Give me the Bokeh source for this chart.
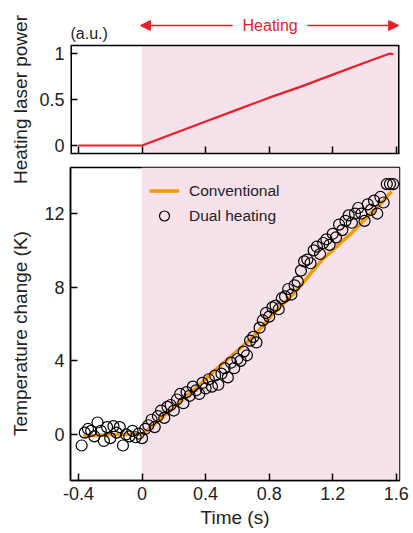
import math
from bokeh.plotting import figure
from bokeh.layouts import column, row
from bokeh.models import (Label, Arrow, NormalHead, Range1d,
                          FixedTicker, Legend, LegendItem)
from bokeh.core.properties import value
from bokeh.embed import file_html
from bokeh.resources import INLINE

FONT = "Liberation Sans"

# ---- data ----
x_ticks = [-0.4, 0, 0.4, 0.8, 1.2, 1.6]
x_tick_labels = ["-0.4", "0", "0.4", "0.8", "1.2", "1.6"]
power_ticks = [0, 0.5, 1]
power_tick_labels = ["0", "0.5", "1"]
temp_ticks = [0, 4, 8, 12]
temp_tick_labels = ["0", "4", "8", "12"]

laser_t = [-0.4, -0.2, 0.0, 0.2, 0.4, 0.6, 0.8, 1.0, 1.2, 1.4, 1.56, 1.58]
laser_p = [0.0, 0.0, 0.0, 0.13, 0.26, 0.39, 0.52, 0.64, 0.77, 0.9, 1.0, 0.99]

conv_t = [-0.37, -0.3, -0.2, -0.1, 0.0, 0.05, 0.11, 0.17, 0.23, 0.29, 0.35,
          0.41, 0.48, 0.54, 0.6, 0.66, 0.72, 0.78, 0.84, 0.9, 0.96, 1.02,
          1.08, 1.14, 1.2, 1.26, 1.32, 1.38, 1.44, 1.5, 1.57]
conv_y = [-0.1, -0.05, 0.0, 0.0, 0.0, 0.35, 0.8, 1.25, 1.7, 2.15, 2.6,
          3.1, 3.65, 4.1, 4.55, 5.0, 5.5, 6.1, 6.7, 7.2, 7.7, 8.3,
          8.95, 9.55, 10.0, 10.5, 10.95, 11.5, 12.0, 12.5, 13.2]

dual_t = [-0.38, -0.36, -0.34, -0.32, -0.30, -0.28, -0.26, -0.24, -0.22, -0.20,
          -0.18, -0.16, -0.14, -0.12, -0.10, -0.08, -0.06, -0.04, -0.02, 0.00,
          0.02, 0.04, 0.06, 0.08, 0.10, 0.12, 0.14, 0.16, 0.18, 0.20,
          0.22, 0.24, 0.26, 0.28, 0.30, 0.32, 0.34, 0.36, 0.38, 0.40,
          0.42, 0.44, 0.46, 0.48, 0.50, 0.52, 0.54, 0.56, 0.58, 0.60,
          0.62, 0.64, 0.66, 0.68, 0.70, 0.72, 0.74, 0.76, 0.78, 0.80,
          0.82, 0.84, 0.86, 0.88, 0.90, 0.92, 0.94, 0.96, 0.98, 1.00,
          1.02, 1.04, 1.06, 1.08, 1.10, 1.12, 1.14, 1.16, 1.18, 1.20,
          1.22, 1.24, 1.26, 1.28, 1.30, 1.32, 1.34, 1.36, 1.38, 1.40,
          1.42, 1.44, 1.46, 1.48, 1.50, 1.52, 1.54, 1.56, 1.58]
dual_y = [-0.6, 0.1, 0.3, 0.2, -0.1, 0.65, 0.2, -0.35, 0.4, -0.2,
          0.45, 0.1, 0.4, -0.6, 0.0, -0.1, 0.2, -0.15, 0.05, -0.2,
          0.3, 0.5, 0.8, 0.4, 1.0, 1.3, 0.9, 1.5, 1.6, 1.3,
          1.9, 2.2, 1.7, 2.3, 2.1, 2.6, 2.4, 2.2, 2.8, 2.5,
          3.0, 2.6, 3.2, 2.7, 3.3, 3.6, 3.1, 3.9, 3.6, 4.1,
          4.0, 4.5, 4.3, 5.1, 5.3, 5.0, 5.8, 6.2, 6.6, 6.4,
          6.9, 7.0, 6.8, 7.4, 7.5, 7.9, 7.6, 8.1, 8.3, 8.9,
          9.4, 9.5, 9.3, 10.0, 10.2, 9.8, 10.4, 10.6, 10.3, 10.9,
          10.7, 11.4, 11.1, 11.6, 11.9, 11.5, 12.0, 12.3, 12.0, 11.6,
          12.5, 12.2, 12.7, 12.0, 12.9, 12.6, 13.6, 13.6, 13.6]

PINK = "#F7E1EA"
RED = "#E8202A"
ORANGE = "#F39A00"
TXT = "#222222"

X0, X1 = -0.45, 1.62
PY0, PY1 = -0.087, 1.087       # top panel box
PYTOP = 1.576                  # top panel frame incl. header
TY0, TY1 = -2.5, 14.5


def style_axes(p):
    for ax in (p.xaxis[0], p.yaxis[0]):
        ax.major_tick_in = 7
        ax.major_tick_out = 0
        ax.minor_tick_line_color = None
        ax.axis_line_width = 1.5
        ax.major_tick_line_width = 1.5
        ax.axis_line_color = "black"
        ax.major_tick_line_color = "black"
        ax.major_label_text_font = FONT
        ax.major_label_text_font_size = "18px"
        ax.major_label_text_color = TXT
        ax.axis_label_text_font = FONT
        ax.axis_label_text_font_size = "19px"
        ax.axis_label_text_font_style = "normal"
        ax.axis_label_text_color = TXT
        ax.major_label_standoff = 6
    p.grid.visible = False
    p.background_fill_color = "white"
    p.border_fill_color = "white"


# ---- side strip with the two rotated axis titles ----
side = figure(width=36, height=533, x_range=Range1d(0, 36),
              y_range=Range1d(0, 533), output_backend="svg",
              toolbar_location=None, min_border=0)
side.axis.visible = False
side.grid.visible = False
side.outline_line_color = None
side.text(x=[20, 20], y=[533 - 99, 533 - 333],
          text=["Heating laser power", "Temperature change (K)"],
          angle=math.pi / 2, text_align="center", text_baseline="middle",
          text_font=value(FONT), text_font_size="19px", text_color=TXT)

# ---- top panel (with header above the box) ----
top = figure(width=377, height=160, x_range=Range1d(X0, X1),
             y_range=Range1d(PY0, PYTOP), output_backend="svg",
             toolbar_location=None, min_border_left=32, min_border_right=14,
             min_border_top=0, min_border_bottom=7)
style_axes(top)
top.outline_line_color = None
top.yaxis.axis_line_color = None
top.quad(left=[0], right=[X1], bottom=[PY0], top=[PY1], fill_color=PINK,
         line_color=None, level="underlay")
# box edges
top.segment(x0=[X0, X1], y0=[PY0, PY0], x1=[X0, X1], y1=[PY1, PY1],
            line_color="black", line_width=3)
top.segment(x0=[X0], y0=[PY1], x1=[X1], y1=[PY1], line_color="black",
            line_width=1.5)
top.line(laser_t, laser_p, line_color=RED, line_width=2.2)
top.xaxis.ticker = FixedTicker(ticks=x_ticks)
top.xaxis.major_label_overrides = {t: "" for t in x_ticks}
top.xaxis.major_label_text_font_size = "1px"
top.xaxis.major_label_standoff = 0
top.yaxis.ticker = FixedTicker(ticks=power_ticks)
top.yaxis.major_label_overrides = dict(zip(power_ticks, power_tick_labels))

top.add_layout(Label(x=X0, y=1.217, text="(a.u.)", text_font=FONT,
                     text_font_size="16px", text_color=TXT,
                     text_align="left", text_baseline="middle"))
top.add_layout(Label(x=0.806, y=1.304, text="Heating", text_font=FONT,
                     text_font_size="16px", text_color=RED,
                     text_align="center", text_baseline="middle"))
top.add_layout(Arrow(x_start=0.57, y_start=1.304, x_end=-0.01, y_end=1.304,
                     line_color=RED, line_width=1.5,
                     end=NormalHead(size=10, fill_color=RED, line_color=RED)))
top.add_layout(Arrow(x_start=1.04, y_start=1.304, x_end=1.615, y_end=1.304,
                     line_color=RED, line_width=1.5,
                     end=NormalHead(size=10, fill_color=RED, line_color=RED)))

# ---- bottom panel ----
bot = figure(width=377, height=373, x_range=Range1d(X0, X1),
             y_range=Range1d(TY0, TY1), output_backend="svg",
             toolbar_location=None, min_border_left=32, min_border_right=14,
             min_border_top=7, min_border_bottom=53)
style_axes(bot)
bot.outline_line_color = "black"
bot.outline_line_width = 1.5
bot.quad(left=[0], right=[X1], bottom=[TY0], top=[TY1], fill_color=PINK,
         line_color=None, level="underlay")
r_conv = bot.line(conv_t, conv_y, line_color=ORANGE, line_width=3.5)
r_dual = bot.scatter(dual_t, dual_y, size=11, marker="circle",
                     fill_color=None, line_color="black", line_width=1.2)
bot.xaxis.ticker = FixedTicker(ticks=x_ticks)
bot.xaxis.major_label_overrides = dict(zip(x_ticks, x_tick_labels))
bot.xaxis.axis_label = "Time (s)"
bot.xaxis.axis_label_standoff = 4
bot.yaxis.ticker = FixedTicker(ticks=temp_ticks)
bot.yaxis.major_label_overrides = dict(zip(temp_ticks, temp_tick_labels))

legend = Legend(items=[LegendItem(label="Conventional", renderers=[r_conv]),
                       LegendItem(label="Dual heating", renderers=[r_dual])],
                location=(79, 252), padding=0, margin=0, spacing=0,
                glyph_width=30, glyph_height=25, label_height=25,
                label_standoff=10, background_fill_alpha=0,
                border_line_color=None, label_text_font=FONT,
                label_text_font_size="15.5px", label_text_color=TXT)
bot.add_layout(legend, "center")

layout = row(side, column(top, bot, spacing=0), spacing=0)
open("out.html", "w").write(file_html(layout, INLINE))
